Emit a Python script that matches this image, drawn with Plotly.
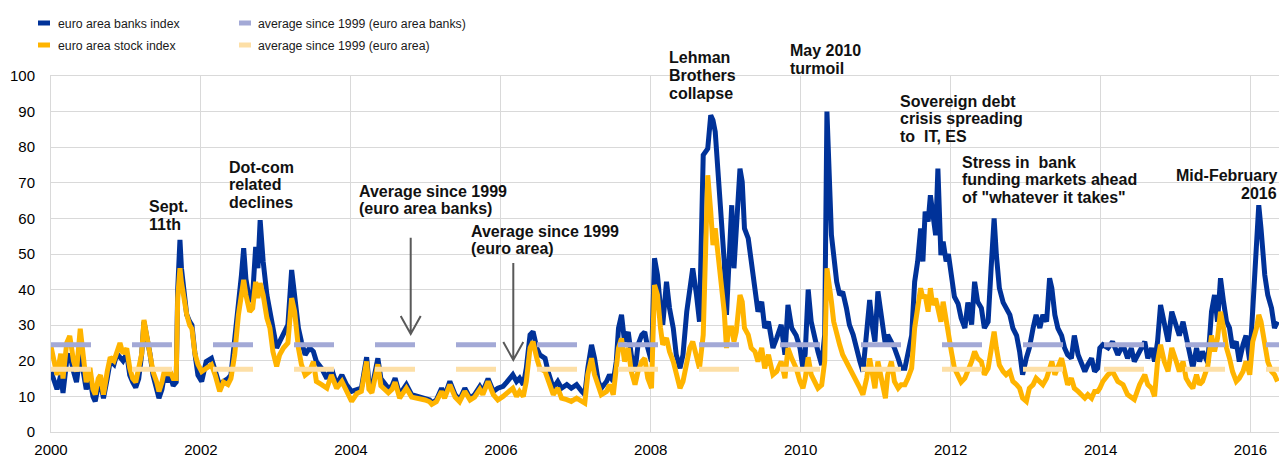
import plotly.graph_objects as go

# ---------------- data ----------------
years = [2000.00, 2000.04, 2000.08, 2000.13, 2000.16, 2000.21, 2000.25, 2000.30, 2000.34, 2000.39,
         2000.43, 2000.47, 2000.52, 2000.56, 2000.59, 2000.63, 2000.66, 2000.70, 2000.75, 2000.79,
         2000.84, 2000.88, 2000.92, 2000.96, 2001.01, 2001.05, 2001.09, 2001.13, 2001.17, 2001.21,
         2001.24, 2001.28, 2001.32, 2001.36, 2001.41, 2001.44, 2001.48, 2001.52, 2001.56, 2001.59,
         2001.63, 2001.67, 2001.69, 2001.72, 2001.74, 2001.77, 2001.81, 2001.85, 2001.88, 2001.92,
         2001.96, 2002.01, 2002.07, 2002.14, 2002.19, 2002.25, 2002.30, 2002.36, 2002.40, 2002.45,
         2002.50, 2002.54, 2002.57, 2002.60, 2002.65, 2002.69, 2002.73, 2002.76, 2002.79, 2002.83,
         2002.88, 2002.92, 2002.96, 2003.01, 2003.05, 2003.10, 2003.16, 2003.21, 2003.25, 2003.30,
         2003.34, 2003.39, 2003.45, 2003.50, 2003.54, 2003.61, 2003.68, 2003.74, 2003.81, 2003.88,
         2003.94, 2004.01, 2004.08, 2004.14, 2004.21, 2004.24, 2004.28, 2004.32, 2004.36, 2004.40,
         2004.43, 2004.50, 2004.55, 2004.59, 2004.65, 2004.70, 2004.74, 2004.81, 2004.90, 2004.99,
         2005.05, 2005.08, 2005.14, 2005.21, 2005.25, 2005.32, 2005.39, 2005.45, 2005.52, 2005.59,
         2005.65, 2005.72, 2005.76, 2005.83, 2005.90, 2005.96, 2006.03, 2006.08, 2006.12, 2006.16,
         2006.21, 2006.25, 2006.30, 2006.34, 2006.39, 2006.43, 2006.48, 2006.52, 2006.59, 2006.63,
         2006.70, 2006.76, 2006.81, 2006.88, 2006.94, 2007.01, 2007.08, 2007.12, 2007.16, 2007.21,
         2007.25, 2007.30, 2007.34, 2007.41, 2007.45, 2007.50, 2007.54, 2007.57, 2007.61, 2007.65,
         2007.70, 2007.74, 2007.79, 2007.83, 2007.88, 2007.92, 2007.96, 2008.01, 2008.05, 2008.09,
         2008.13, 2008.16, 2008.21, 2008.25, 2008.30, 2008.34, 2008.39, 2008.43, 2008.48, 2008.52,
         2008.56, 2008.61, 2008.65, 2008.70, 2008.73, 2008.76, 2008.80, 2008.83, 2008.86, 2008.90,
         2008.93, 2008.98, 2009.01, 2009.04, 2009.08, 2009.11, 2009.14, 2009.19, 2009.22, 2009.25,
         2009.30, 2009.34, 2009.39, 2009.43, 2009.48, 2009.52, 2009.57, 2009.63, 2009.68, 2009.74,
         2009.79, 2009.83, 2009.88, 2009.94, 2009.99, 2010.03, 2010.06, 2010.10, 2010.14, 2010.19,
         2010.23, 2010.28, 2010.32, 2010.35, 2010.38, 2010.41, 2010.44, 2010.48, 2010.52, 2010.56,
         2010.61, 2010.65, 2010.70, 2010.74, 2010.79, 2010.83, 2010.88, 2010.92, 2010.96, 2010.99,
         2011.03, 2011.07, 2011.10, 2011.13, 2011.16, 2011.21, 2011.25, 2011.30, 2011.34, 2011.39,
         2011.43, 2011.48, 2011.52, 2011.56, 2011.60, 2011.63, 2011.66, 2011.70, 2011.73, 2011.76,
         2011.80, 2011.83, 2011.87, 2011.90, 2011.94, 2011.97, 2012.01, 2012.05, 2012.10, 2012.14,
         2012.19, 2012.23, 2012.28, 2012.32, 2012.36, 2012.41, 2012.45, 2012.50, 2012.54, 2012.58,
         2012.61, 2012.65, 2012.70, 2012.74, 2012.79, 2012.83, 2012.88, 2012.92, 2012.96, 2013.01,
         2013.05, 2013.10, 2013.14, 2013.19, 2013.23, 2013.28, 2013.32, 2013.35, 2013.39, 2013.43,
         2013.48, 2013.52, 2013.56, 2013.61, 2013.65, 2013.70, 2013.74, 2013.79, 2013.83, 2013.88,
         2013.92, 2013.96, 2013.99, 2014.03, 2014.10, 2014.16, 2014.23, 2014.30, 2014.36, 2014.41,
         2014.45, 2014.52, 2014.59, 2014.63, 2014.68, 2014.72, 2014.76, 2014.80, 2014.85, 2014.90,
         2014.95, 2015.01, 2015.05, 2015.10, 2015.14, 2015.19, 2015.23, 2015.28, 2015.32, 2015.36,
         2015.43, 2015.48, 2015.52, 2015.56, 2015.60, 2015.64, 2015.68, 2015.72, 2015.76, 2015.81,
         2015.85, 2015.90, 2015.94, 2015.99, 2016.03, 2016.08, 2016.11, 2016.14, 2016.19, 2016.23,
         2016.28, 2016.32, 2016.36]

banks = [17, 14, 12, 16, 11, 20, 22, 17, 14, 22,
         17, 12, 15, 10, 8.6, 13, 14, 9.5, 15, 20,
         19, 22, 21, 20, 22, 16, 14, 12.5, 15, 22,
         31, 27, 22, 16, 12, 9.5, 12, 17, 14, 16,
         13, 14, 40, 54, 46, 40, 33, 31, 30, 22,
         16, 14.2, 19.8, 20.7, 17, 13, 14.2, 15, 16, 25.4,
         34.8, 44, 51.6, 43, 36.6, 38.5, 52, 46, 59.5, 47.9,
         38.5, 33.8, 29.2, 23.6, 25.4, 27.3, 30.1, 45.5, 38.5, 29.2,
         25.4, 21.7, 23.6, 22.6, 19.8, 17.9, 15, 17.9, 13.3, 16,
         13.3, 11.4, 11.9, 12.3, 21, 14, 12.3, 17, 20.7, 15,
         14.2, 12.3, 13, 15.1, 10.5, 12, 13.3, 10.5, 10, 9.5,
         9.0, 8.1, 9, 12.3, 10, 14.2, 10.5, 9, 12.3, 9.5,
         10.5, 12.8, 11.4, 15, 11.4, 12.3, 12.8, 14, 15.1, 16.1,
         14.2, 15.1, 13.3, 17.9, 27.3, 28.2, 23.6, 21.7, 20.7, 17,
         12.3, 14.2, 12.3, 13.3, 12.3, 13.3, 11.4, 10.5, 17.9, 24.5,
         20.7, 14.2, 12.3, 14.2, 16.1, 14.2, 19.8, 29.2, 32.9, 25.4,
         28.1, 21.7, 17, 24.5, 27.3, 28.1, 23.6, 19.8, 48.8, 44.1,
         34.8, 30.1, 42.2, 34.8, 29.2, 21.7, 17.9, 21.7, 33.8, 39.4,
         46, 38.5, 31, 77.8, 78.7, 79.6, 89, 87.6, 84.3, 72.1,
         66.5, 47.9, 32.9, 47.9, 63.7, 46, 57.2, 74, 70.3, 57.2,
         54.4, 47.9, 41.3, 33.8, 36.6, 29.2, 31, 23.6, 26.4, 30.1,
         21.7, 35.7, 29.2, 27.1, 23.6, 17.9, 22, 40, 31, 25.4,
         22.6, 18.8, 27.3, 90, 66.5, 55.3, 49.7, 42.2, 38.5, 39.4,
         34.8, 30.1, 27.3, 23.6, 19.8, 17, 29.2, 37.1, 29.2, 25.4,
         39.5, 32.9, 27.1, 24.5, 27.3, 25.4, 23.6, 20.7, 17.9, 17.9,
         21.7, 27.1, 42.2, 47.9, 57.2, 47.9, 61.9, 59.1, 66.5, 60.9,
         55.3, 74, 49.7, 53.5, 47.9, 50, 44.1, 38, 36, 32,
         29.2, 36.4, 30.2, 42.2, 36.6, 34.8, 29.2, 31, 46, 60,
         49.7, 40.4, 36.4, 34.8, 32.9, 29.2, 27.1, 22.6, 16.1, 20.8,
         23.6, 29.2, 32.9, 29.2, 32.9, 31, 43.2, 40.4, 32.9, 29.2,
         27.1, 23.6, 21.7, 20.7, 27.1, 21.7, 19.8, 17, 18.9, 20.7,
         17, 17.9, 23.6, 24.5, 23.6, 25.4, 21.7, 24.5, 20.7, 23.6,
         19.8, 22.6, 25.4, 20.7, 23.6, 19.8, 25.4, 35.7, 31, 25.4,
         33.8, 29.2, 27.1, 31, 27.1, 20.7, 17.9, 23.6, 19.8, 22.6,
         19.5, 33.8, 38.5, 31, 43.2, 36.6, 31, 29.2, 23.6, 25.4,
         19.8, 24.5, 27.1, 19.8, 34.8, 50.7, 63.7, 57.2, 44.1, 38.5,
         34.8, 29.2, 31]

stocks = [24, 19, 16, 22, 15, 25, 27, 20, 17, 29,
          20, 14, 18, 12, 10.5, 15, 16, 10.5, 17, 21,
          20, 23, 25, 22, 23.5, 18, 15, 14, 18, 22,
          31.5, 27, 21, 17, 14, 11.4, 14, 18, 16, 17,
          15, 15, 37.6, 46, 42, 37, 33, 30, 29, 22,
          19, 17, 18, 18.9, 16, 11.4, 14, 13.3, 15, 21.7,
          32.9, 38, 42.7, 38.5, 33.8, 34.8, 42.2, 37.6, 41.8, 38.5,
          32, 29.2, 22.6, 18.4, 21.7, 23.6, 25, 37.6, 33.8, 23.6,
          19, 16, 17, 19.8, 14.2, 13.3, 12.3, 16, 12.3, 14.2,
          11.4, 8.6, 10.8, 11.4, 19.8, 12, 11, 15, 19, 13,
          12.5, 11, 12, 14, 9.5, 11, 12.3, 9.8, 9.5, 9,
          8.5, 7.8, 8.5, 11.4, 9.5, 13.3, 9.8, 8.5, 11.4, 9,
          9.8, 12, 10.5, 14.2, 10.5, 9, 10, 10.8, 11.4, 12.3,
          10, 11.4, 10, 14.2, 23.6, 25.4, 20.7, 17.9, 17, 14.2,
          10.5, 12.3, 9.5, 9.1, 8.6, 9.5, 8.6, 8.1, 16.1, 20.7,
          16.1, 12.3, 10.5, 11.4, 13.3, 10.5, 17, 23.6, 26.3, 19.8,
          23.6, 17, 13.3, 17, 19.8, 20.7, 15.1, 12.3, 41.3, 38.5,
          29.2, 24.5, 26.4, 22.6, 19.8, 16.1, 12.3, 14.2, 19.8, 23.6,
          25.4, 20.7, 17.9, 27.3, 47.9, 72.1, 61.9, 52.5, 57.2, 49.7,
          46, 33.8, 23.6, 29.2, 29.2, 25.4, 28.1, 38.5, 36.6, 29.2,
          27.3, 23.6, 22.6, 19.8, 23.6, 17.9, 21.7, 16.1, 17, 19.8,
          15.1, 23.6, 20.7, 17.9, 14.2, 12.3, 15, 21, 16.1, 14.2,
          12.3, 13.2, 19.8, 46, 42.2, 36.6, 31, 27.3, 24.5, 21.7,
          19.8, 17.9, 16.1, 14.2, 12.3, 10.5, 15.1, 20.7, 15.1, 12.3,
          19.8, 16.1, 12.3, 9.5, 16.1, 19.8, 14.2, 12.3, 13.3, 13.3,
          15.1, 17.9, 29.2, 34.8, 40.4, 37.6, 38.5, 33.8, 40.4, 35.7,
          37.5, 34.8, 31, 36.6, 31, 29, 22.6, 18, 16, 14,
          15.1, 17, 19.8, 22.6, 20.7, 19.8, 16.1, 17.9, 23.6, 28.2,
          23.6, 18.8, 17, 16.1, 17, 14.2, 13.3, 12.3, 9.5, 8.6,
          12.3, 13.3, 15.1, 14.2, 13.3, 15.1, 17.9, 19.8, 16.1, 17.9,
          20.7, 17, 13.3, 15.1, 12.3, 11.4, 10.5, 9.5, 10.5, 9.5,
          11.4, 11.4, 12.3, 14.2, 16.1, 17, 14.2, 13.3, 10.5, 9.5,
          9.1, 13.3, 16.1, 13.3, 12.3, 10, 19.8, 24.5, 19.8, 17,
          23.6, 19.8, 17, 19.8, 15.1, 13.3, 12.3, 16.1, 13.3, 14.2,
          18.5, 27.1, 22.6, 26.4, 33.8, 29.2, 23.6, 20.7, 17, 14.2,
          15.1, 17, 19.8, 16.1, 25.4, 29.2, 32.9, 31, 23.6, 19.8,
          17, 16.1, 14.2]

avg_banks = 24.5   # average since 1999 (euro area banks)
avg_euro = 17.6    # average since 1999 (euro area)

series_names = ["euro area banks index", "euro area stock index",
                "average since 1999 (euro area banks)", "average since 1999 (euro area)"]
x_ticks = [2000, 2002, 2004, 2006, 2008, 2010, 2012, 2014, 2016]
x_end = 2016.38

# ---------------- styling ----------------
C_BANKS = "#003299"
C_STOCK = "#ffb400"
C_AVG_BANKS = "#a3a9d6"
C_AVG_EURO = "#fddfa6"
FONT = "Liberation Sans, Arial, sans-serif"

W, H = 1281, 459
PLOT_L, PLOT_R, PLOT_T, PLOT_B = 51, 1279, 76, 432      # window pixels
ML, MR, MT, MB = PLOT_L, W - PLOT_R, PLOT_T, H - PLOT_B
PW, PH = W - ML - MR, H - MT - MB


def px(x):
    return (x - ML) / PW


def py(y):
    return (H - MB - y) / PH


fig = go.Figure()
fig.add_trace(go.Scatter(x=years, y=banks, mode="lines", name=series_names[0],
                         line=dict(color=C_BANKS, width=5), showlegend=False))
fig.add_trace(go.Scatter(x=years, y=stocks, mode="lines", name=series_names[1],
                         line=dict(color=C_STOCK, width=5), showlegend=False))
fig.add_trace(go.Scatter(x=[years[0], x_end], y=[avg_banks, avg_banks], mode="lines",
                         name=series_names[2],
                         line=dict(color=C_AVG_BANKS, width=5, dash="40px,41px"), showlegend=False))
fig.add_trace(go.Scatter(x=[years[0], x_end], y=[avg_euro, avg_euro], mode="lines",
                         name=series_names[3],
                         line=dict(color=C_AVG_EURO, width=5, dash="40px,41px"), showlegend=False))

shapes = []
annotations = []

# custom legend
legend_items = [
    (series_names[0], C_BANKS, 38, 23, 57),
    (series_names[1], C_STOCK, 38, 45, 57),
    (series_names[2], C_AVG_BANKS, 239, 23, 257),
    (series_names[3], C_AVG_EURO, 239, 45, 257),
]
for name, col, sx, sy, tx in legend_items:
    shapes.append(dict(type="rect", xref="paper", yref="paper",
                       x0=px(sx), x1=px(sx + 12), y0=py(sy - 2.5), y1=py(sy + 2.5),
                       fillcolor=col, line=dict(width=0), layer="above"))
    annotations.append(dict(text=name, xref="paper", yref="paper", x=px(tx), y=py(sy + 1.3),
                            xanchor="left", yanchor="middle", showarrow=False, borderpad=0,
                            font=dict(family=FONT, size=12.3, color="#1a1a1a")))

# event labels: (text lines, x pixel, first baseline pixel, anchor)
labels = [
    (["Sept.", "11th"], 148, 212, "left"),
    (["Dot-com", "related", "declines"], 228, 172.7, "left"),
    (["Average since 1999", "(euro area banks)"], 358, 196.7, "left"),
    (["Average since 1999", "(euro area)"], 470, 236.7, "left"),
    (["Lehman", "Brothers", "collapse"], 668, 63.3, "left"),
    (["May 2010", "turmoil"], 789, 56, "left"),
    (["Sovereign debt", "crisis spreading", "to\u00a0 IT, ES"], 899, 106.7, "left"),
    (["Stress in\u00a0 bank", "funding markets ahead", "of \"whatever it takes\""], 961, 167.7, "left"),
    (["Mid-February", "2016"], 1278, 181, "right"),
]
LINE_STEP = 17.8
for lines, x0, base, anchor in labels:
    for i, t in enumerate(lines):
        b = base + i * LINE_STEP
        annotations.append(dict(text="<b>%s</b>" % t, xref="paper", yref="paper",
                                x=px(x0), y=py(b - 5.6), xanchor=anchor, yanchor="middle",
                                showarrow=False, borderpad=0,
                                font=dict(family=FONT, size=16, color="#111111")))

# arrows with open heads
for ax, top, tip in [(410.7, 237.7, 334), (513.3, 263, 360)]:
    path = "M%f,%f L%f,%f M%f,%f L%f,%f L%f,%f" % (
        px(ax), py(top), px(ax), py(tip),
        px(ax - 10), py(tip - 18), px(ax), py(tip), px(ax + 10), py(tip - 18))
    shapes.append(dict(type="path", xref="paper", yref="paper", path=path,
                       line=dict(color="#595959", width=2), layer="above"))

fig.update_layout(
    width=W, height=H,
    margin=dict(l=ML, r=MR, t=MT, b=MB, pad=0, autoexpand=False),
    paper_bgcolor="white", plot_bgcolor="white",
    showlegend=False,
    shapes=shapes, annotations=annotations,
    xaxis=dict(range=[2000, x_end], tickvals=x_ticks, ticktext=[str(v) for v in x_ticks],
               showgrid=True, gridcolor="#d9d9d9", gridwidth=1,
               showline=True, linecolor="#d9d9d9", linewidth=1, mirror=True,
               zeroline=False, ticks="", ticklabelstandoff=4, automargin=False,
               tickfont=dict(family=FONT, size=15, color="#000000")),
    yaxis=dict(range=[0, 100], dtick=10, showgrid=True, gridcolor="#d9d9d9", gridwidth=1,
               showline=True, linecolor="#d9d9d9", linewidth=1,
               zeroline=False, ticks="", ticklabelstandoff=12, automargin=False,
               tickfont=dict(family=FONT, size=15, color="#000000")),
)

# remove the default 8px page margin so the figure sits at the window's top-left corner
fig.write_html("out.html",
               config={"displayModeBar": False, "staticPlot": True},
               post_script="document.body.style.margin='0px';document.body.style.overflow='hidden';")
